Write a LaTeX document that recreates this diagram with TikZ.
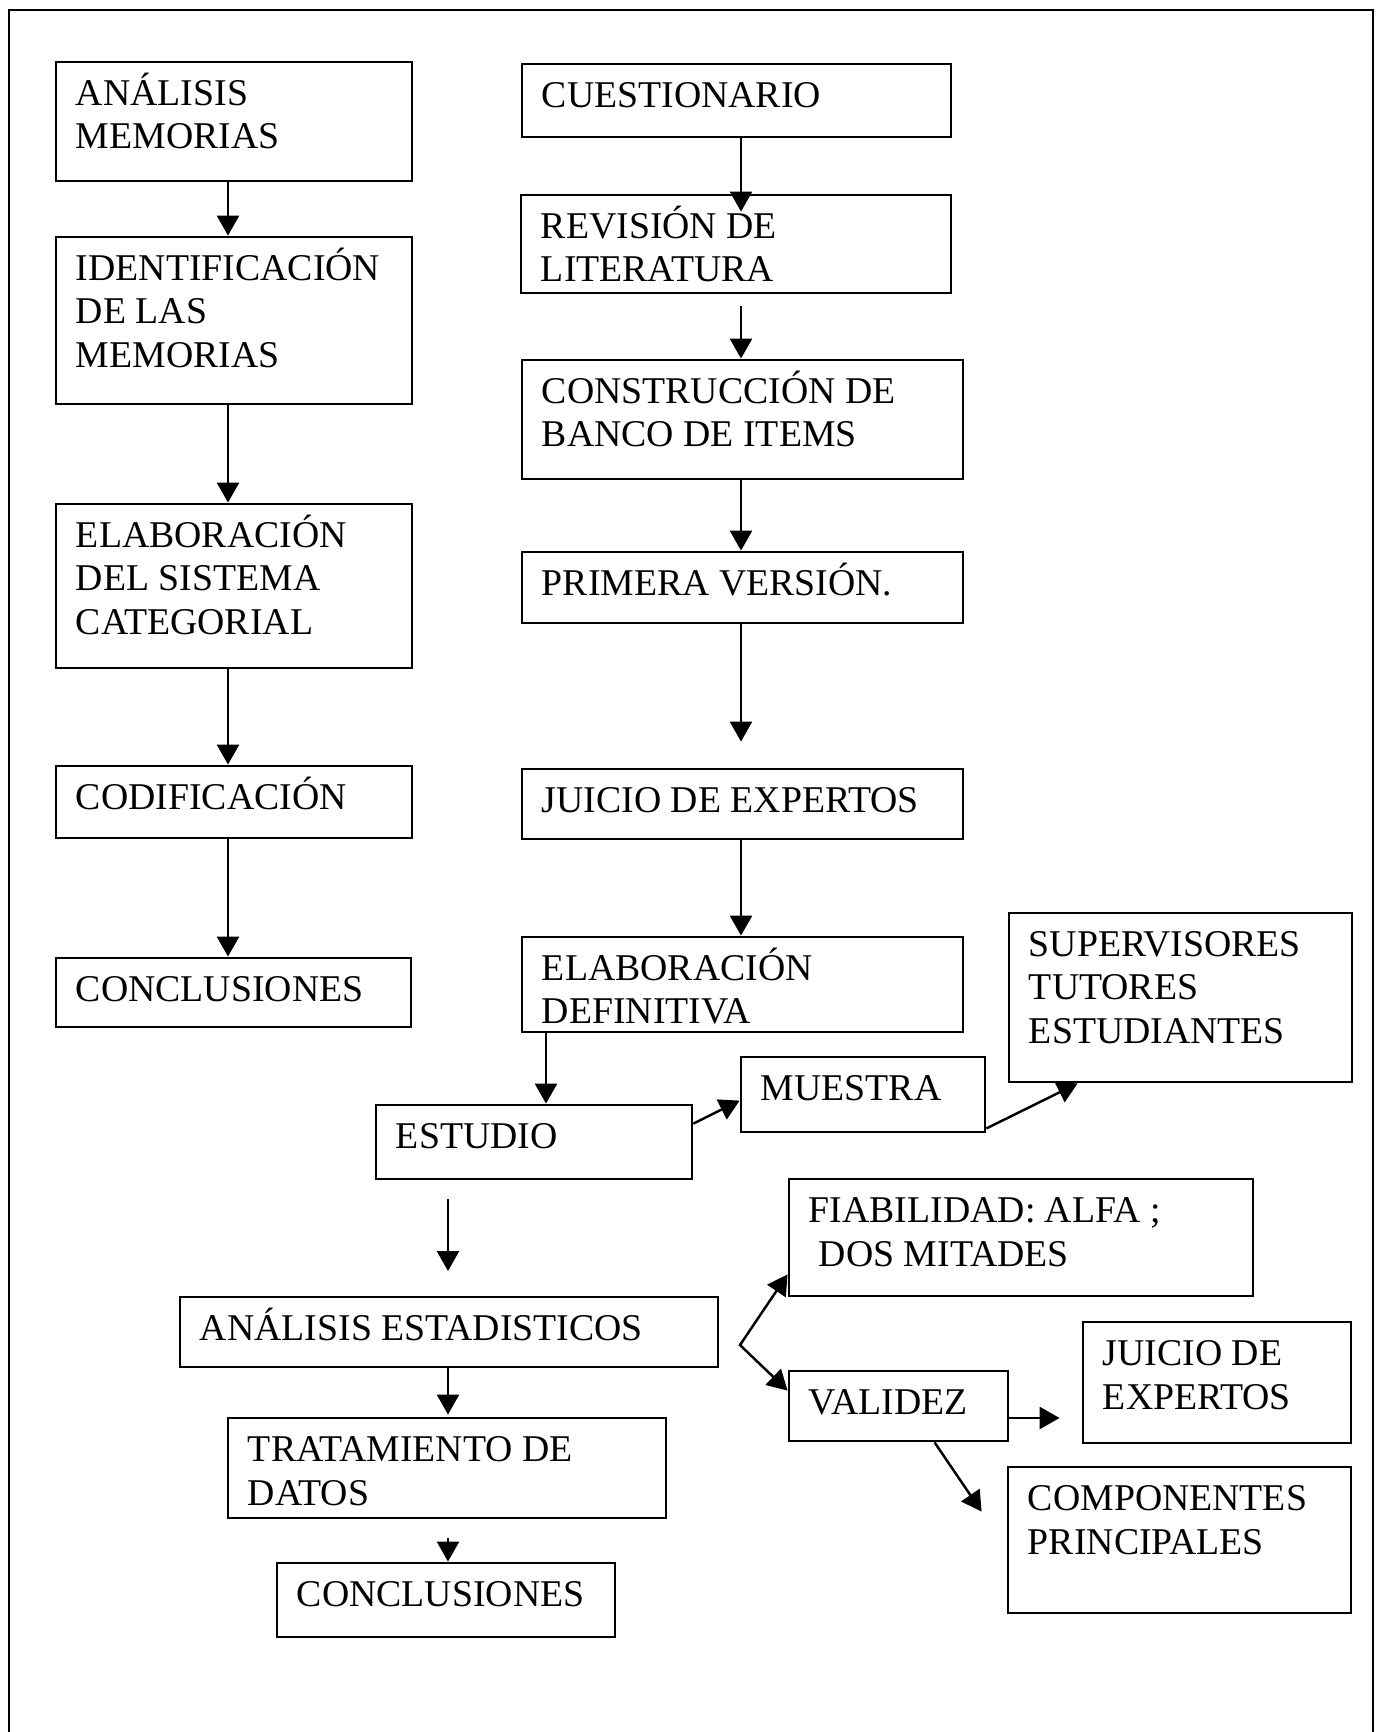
\documentclass[tikz,border=0pt]{standalone}
\usepackage{fontspec}
\setmainfont{Liberation Serif}
\usetikzlibrary{fit,calc,arrows.meta}
\tikzset{
  box/.style={draw, line width=1.6pt, inner sep=0pt, rectangle},
  lbl/.style={anchor=north west, inner sep=0pt, align=left,
    font=\fontsize{21.5pt}{24.5pt}\selectfont},
  arr/.style={line width=1.4pt, -{Triangle[length=0.4cm,width=0.44cm]}},
  arrboth/.style={line width=1.4pt, line join=miter,
    {Triangle[length=0.4cm,width=0.44cm]}-{Triangle[length=0.4cm,width=0.44cm]}},
  frameline/.style={line width=1.3pt}
}
\newcommand\bx[6]{%
  \node[box, fit={(#2,#3) (#4,#5)}] (#1) {};
  \node[lbl] (#1t) at ([xshift=0.42cm]#1.north west) {\rule{0pt}{0.9cm}#6};
}
\begin{document}
\begin{tikzpicture}[x=0.02cm,y=-0.02cm]
\useasboundingbox (0,0) rectangle (1378,1732);
\draw[frameline] (9,1732) -- (9,10) -- (1373,10) -- (1373,1732);

% left column
\bx{am}{56}{62}{412}{181}{ANÁLISIS\\MEMORIAS}
\bx{idm}{56}{237}{412}{404}{IDENTIFICACIÓN\\DE LAS\\MEMORIAS}
\bx{esc}{56}{504}{412}{668}{ELABORACIÓN\\DEL SISTEMA\\CATEGORIAL}
\bx{cod}{56}{766}{412}{838}{CODIFICACIÓN}
\bx{conA}{56}{958}{411}{1027}{CONCLUSIONES}

% right column
\bx{cue}{522}{64}{951}{137}{CUESTIONARIO}
\bx{rev}{521}{195}{951}{293}{REVISIÓN DE\\LITERATURA}
\bx{cbi}{522}{360}{963}{479}{CONSTRUCCIÓN DE\\BANCO DE ITEMS}
\bx{pv}{522}{552}{963}{623}{PRIMERA VERSIÓN.}
\bx{je}{522}{769}{963}{839}{JUICIO DE EXPERTOS}
\bx{ed}{522}{937}{963}{1032}{ELABORACIÓN\\DEFINITIVA}

% lower part
\bx{est}{376}{1105}{692}{1179}{ESTUDIO}
\bx{mue}{741}{1057}{985}{1132}{MUESTRA}
\bx{sup}{1009}{913}{1352}{1082}{SUPERVISORES\\TUTORES\\ESTUDIANTES}
\bx{ae}{180}{1297}{718}{1367}{ANÁLISIS ESTADISTICOS}
\bx{td}{228}{1418}{666}{1518}{TRATAMIENTO DE\\DATOS}
\bx{conB}{277}{1563}{615}{1637}{CONCLUSIONES}
\bx{fia}{789}{1179}{1253}{1296}{FIABILIDAD: ALFA ;\\\hspace*{0.2cm}DOS MITADES}
\bx{val}{789}{1371}{1008}{1441}{VALIDEZ}
\bx{jeB}{1083}{1322}{1351}{1443}{JUICIO DE\\EXPERTOS}
\bx{cp}{1008}{1467}{1351}{1613}{COMPONENTES\\PRINCIPALES}

% guide coordinates
\coordinate (cL) at (228,0);
\coordinate (cR) at (741,0);
\coordinate (cE) at (546,0);
\coordinate (cB) at (448,0);

% left column arrows
\draw[arr] (am.south -| cL) -- (idm.north -| cL);
\draw[arr] (idm.south -| cL) -- (esc.north -| cL);
\draw[arr] (esc.south -| cL) -- (cod.north -| cL);
\draw[arr] (cod.south -| cL) -- (conA.north -| cL);

% right column arrows
\draw[arr] (cue.south -| cR) -- ($(rev.north -| cR)+(0,18)$);
\draw[arr] ($(rev.south -| cR)+(0,12)$) -- (cbi.north -| cR);
\draw[arr] (cbi.south -| cR) -- (pv.north -| cR);
\draw[arr] (pv.south -| cR) -- ($(je.north -| cR)+(0,-26)$);
\draw[arr] (je.south -| cR) -- (ed.north -| cR);
\draw[arr] (ed.south -| cE) -- (est.north -| cE);

% study branch
\draw[arr] ($(est.north east)+(0,20)$) -- ($(mue.north west)+(0,45)$);
\draw[arr] ($(mue.south east)+(0,-5)$) -- ($(sup.south west)+(70,0)$);

\coordinate (fa) at (448,1199);
\coordinate (fb) at (448,1271);
\draw[arr] (fa) -- (fb);

\draw[arr] (ae.south -| cB) -- ($(td.north -| cB)+(0,-2)$);
\draw[arr] ($(td.south -| cB)+(0,19)$) -- (conB.north -| cB);

\coordinate (br) at (740,1345);
\draw[arrboth] ($(fia.south west)+(0,-23)$) -- (br) -- ($(val.north west)+(0,21)$);
\draw[arr] ($(val.east)+(0,12)$) -- ($(val.east -| jeB.west)+(-22,12)$);
\draw[arr] ($(val.south west)+(147,0)$) -- ($(cp.north west)+(-25,46)$);
\end{tikzpicture}
\end{document}
